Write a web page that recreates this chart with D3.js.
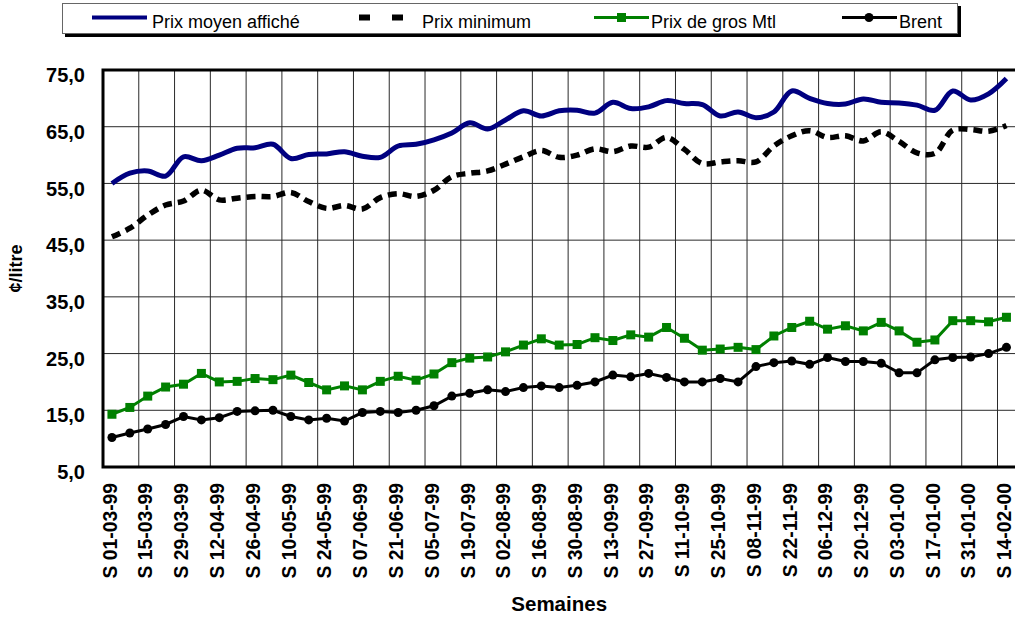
<!DOCTYPE html>
<html><head><meta charset="utf-8">
<script src="https://cdn.jsdelivr.net/npm/d3@7"></script>
<style>
body{margin:0;background:#fff;}
svg{display:block;font-family:"Liberation Sans",Arial,sans-serif;}
</style></head>
<body><svg id="c" width="1015" height="621"></svg>
<script>
const weeks = ["S 01-03-99","S 08-03-99","S 15-03-99","S 22-03-99","S 29-03-99","S 05-04-99","S 12-04-99","S 19-04-99","S 26-04-99","S 03-05-99","S 10-05-99","S 17-05-99","S 24-05-99","S 31-05-99","S 07-06-99","S 14-06-99","S 21-06-99","S 28-06-99","S 05-07-99","S 12-07-99","S 19-07-99","S 26-07-99","S 02-08-99","S 09-08-99","S 16-08-99","S 23-08-99","S 30-08-99","S 06-09-99","S 13-09-99","S 20-09-99","S 27-09-99","S 04-10-99","S 11-10-99","S 18-10-99","S 25-10-99","S 01-11-99","S 08-11-99","S 15-11-99","S 22-11-99","S 29-11-99","S 06-12-99","S 13-12-99","S 20-12-99","S 27-12-99","S 03-01-00","S 10-01-00","S 17-01-00","S 24-01-00","S 31-01-00","S 07-02-00","S 14-02-00"];
const prixMoyen = [55.0,56.8,57.2,56.3,59.7,59.0,60.0,61.2,61.3,61.9,59.4,60.1,60.2,60.6,59.8,59.6,61.6,61.9,62.7,63.9,65.7,64.6,66.2,67.8,66.9,67.8,67.9,67.4,69.3,68.2,68.5,69.6,69.1,68.9,66.9,67.6,66.6,67.6,71.3,70.0,69.1,69.0,69.9,69.3,69.2,68.8,67.9,71.3,69.7,70.8,73.5];
const prixMinimum = [45.6,47.1,49.4,51.2,51.9,53.8,52.1,52.4,52.7,52.7,53.4,51.8,50.6,51.1,50.5,52.5,53.2,52.7,53.8,56.2,56.8,57.2,58.4,59.7,60.8,59.6,60.0,61.1,60.6,61.6,61.4,63.1,61.0,58.5,58.8,59.0,58.8,61.6,63.4,64.3,63.1,63.4,62.5,64.1,62.4,60.4,60.3,64.4,64.5,64.2,65.2];
const prixGros = [14.3,15.5,17.5,19.1,19.6,21.5,20.0,20.1,20.6,20.4,21.2,19.9,18.6,19.3,18.6,20.1,21.0,20.3,21.4,23.4,24.2,24.4,25.3,26.5,27.6,26.5,26.6,27.8,27.3,28.3,27.9,29.6,27.7,25.6,25.8,26.1,25.7,28.1,29.6,30.7,29.3,29.9,29.0,30.5,29.0,27.0,27.4,30.8,30.8,30.6,31.4];
const brent = [10.2,11.0,11.7,12.5,13.9,13.3,13.7,14.8,14.9,15.0,13.9,13.3,13.6,13.1,14.6,14.8,14.6,15.0,15.8,17.5,18.0,18.6,18.3,19.0,19.3,19.0,19.4,20.0,21.2,20.9,21.5,20.8,20.0,20.0,20.6,20.0,22.7,23.4,23.7,23.1,24.3,23.6,23.6,23.3,21.6,21.6,23.9,24.3,24.4,25.0,26.1];
const yTicks = [5,15,25,35,45,55,65,75];
const legendLabels = ["Prix moyen affiché","Prix minimum","Prix de gros Mtl","Brent"];
const yTitle = "¢/litre";
const xTitle = "Semaines";

const svg = d3.select("#c");
const L = 103, T = 70, B = 467, R = 103 + 51*17.89;
const x = d3.scaleBand().domain(weeks).range([L, R]).padding(0);
const y = d3.scaleLinear().domain([5,75]).range([B, T]);
const cx = d => x(d) + x.bandwidth()/2;

// grid
const g = svg.append("g");
g.selectAll(".hg").data(yTicks.filter(t=>t>5&&t<75)).join("line")
  .attr("x1",L).attr("x2",R).attr("y1",d=>y(d)).attr("y2",d=>y(d))
  .attr("stroke","#2a2a2a").attr("stroke-width",1);
g.selectAll(".vg").data(weeks.filter((d,i)=>i>0&&i%2===0)).join("line")
  .attr("x1",d=>x(d)).attr("x2",d=>x(d)).attr("y1",T).attr("y2",B)
  .attr("stroke","#2a2a2a").attr("stroke-width",1);

// axes
const yAxis = svg.append("g").attr("transform",`translate(${L},0)`)
  .call(d3.axisLeft(y).tickValues(yTicks).tickSize(0).tickPadding(18)
    .tickFormat(d=>d.toFixed(1).replace(".",",")));
yAxis.select(".domain").remove();
yAxis.selectAll("text").attr("font-size",20).attr("font-weight","bold")
  .attr("font-family","Liberation Sans, Arial, sans-serif").attr("fill","#000")
  .attr("dy","0.58em");

const xAxis = svg.append("g").attr("transform",`translate(0,${B})`)
  .call(d3.axisBottom(x).tickValues(weeks.filter((d,i)=>i%2===0)).tickSize(0));
xAxis.select(".domain").remove();
xAxis.selectAll("text").attr("font-size",19.3).attr("font-weight","bold")
  .attr("font-family","Liberation Sans, Arial, sans-serif").attr("fill","#000")
  .attr("text-anchor","end").attr("dy","0.35em").attr("dx","0")
  .attr("transform","translate(-2,16) rotate(-90)").attr("x",0).attr("y",0);

// frame
svg.append("path").attr("d",`M${R},${T}H${L}V${B}H${R}`)
  .attr("fill","none").attr("stroke","#000").attr("stroke-width",3);

// lines
const lineSmooth = arr => d3.line().x((d,i)=>cx(weeks[i])).y(d=>y(d)).curve(d3.curveCatmullRom.alpha(0.5))(arr);
const lineStraight = arr => d3.line().x((d,i)=>cx(weeks[i])).y(d=>y(d))(arr);

svg.append("path").attr("d",lineSmooth(prixMoyen)).attr("fill","none")
  .attr("stroke","#000080").attr("stroke-width",5);
svg.append("path").attr("d",lineSmooth(prixMinimum)).attr("fill","none")
  .attr("stroke","#000").attr("stroke-width",5.5).attr("stroke-dasharray","9,6");
svg.append("path").attr("d",lineStraight(prixGros)).attr("fill","none")
  .attr("stroke","#008000").attr("stroke-width",3);
svg.selectAll(".gm").data(prixGros).join("rect")
  .attr("x",(d,i)=>cx(weeks[i])-4.5).attr("y",d=>y(d)-4.5).attr("width",9).attr("height",9)
  .attr("fill","#008000");
svg.append("path").attr("d",lineStraight(brent)).attr("fill","none")
  .attr("stroke","#000").attr("stroke-width",3);
svg.selectAll(".bm").data(brent).join("circle")
  .attr("cx",(d,i)=>cx(weeks[i])).attr("cy",d=>y(d)).attr("r",4.5).attr("fill","#000");

// titles
svg.append("text").attr("transform",`translate(22,${(T+B)/2}) rotate(-90)`)
  .attr("text-anchor","middle").attr("font-size",18).attr("font-weight","bold").text(yTitle);
svg.append("text").attr("x",(L+R)/2).attr("y",611).attr("text-anchor","middle")
  .attr("font-size",20.5).attr("font-weight","bold").text(xTitle);

// legend
const lg = svg.append("g");
lg.append("rect").attr("x",65).attr("y",6).attr("width",896).attr("height",31).attr("fill","#000");
lg.append("rect").attr("x",62.5).attr("y",3.5).attr("width",895).attr("height",30).attr("fill","#fff")
  .attr("stroke","#666").attr("stroke-width",1);
const ly = 17.5;
lg.append("line").attr("x1",92).attr("x2",147).attr("y1",ly).attr("y2",ly).attr("stroke","#000080").attr("stroke-width",4);
lg.append("line").attr("x1",359).attr("x2",404).attr("y1",ly).attr("y2",ly).attr("stroke","#000").attr("stroke-width",6).attr("stroke-dasharray","11,22");
lg.append("line").attr("x1",594).attr("x2",649).attr("y1",ly).attr("y2",ly).attr("stroke","#008000").attr("stroke-width",3);
lg.append("rect").attr("x",617).attr("y",ly-4.5).attr("width",9).attr("height",9).attr("fill","#008000");
lg.append("line").attr("x1",842).attr("x2",897).attr("y1",ly).attr("y2",ly).attr("stroke","#000").attr("stroke-width",3);
lg.append("circle").attr("cx",869).attr("cy",ly).attr("r",4.5).attr("fill","#000");
const lx = [152,422,651,899];
lg.selectAll(".lt").data(legendLabels).join("text").attr("x",(d,i)=>lx[i]).attr("y",28.3)
  .attr("font-size",18).text(d=>d);
</script></body></html>
